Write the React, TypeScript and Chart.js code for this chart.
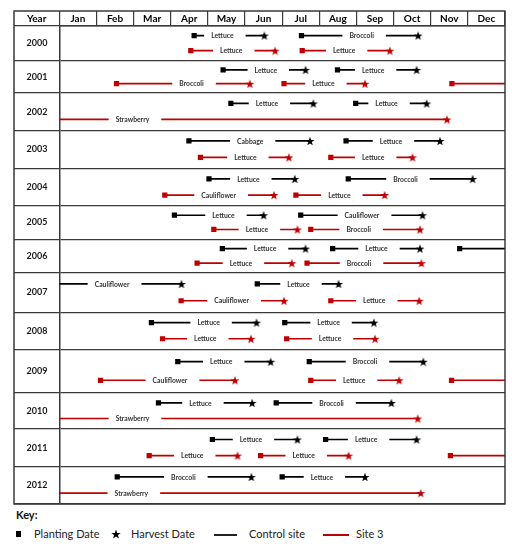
import { useEffect, useRef } from "react";
import { Chart, registerables } from "chart.js";

Chart.register(...registerables);

const months = ["Jan", "Feb", "Mar", "Apr", "May", "Jun", "Jul", "Aug", "Sep", "Oct", "Nov", "Dec"];
const years = ["2000", "2001", "2002", "2003", "2004", "2005", "2006", "2007", "2008", "2009", "2010", "2011", "2012"];

// [year, planted (month), harvested (month), crop, label centre (month)]
// planted null = carried over from the year before, harvested null = runs on into next year
const controlSite = [
  ["2000", 3.63, 5.52, "Lettuce", 4.39], ["2000", 6.52, 9.66, "Broccoli", 8.14],
  ["2001", 4.41, 6.63, "Lettuce", 5.56], ["2001", 7.49, 9.62, "Lettuce", 8.45],
  ["2002", 4.62, 6.84, "Lettuce", 5.59], ["2002", 7.98, 9.89, "Lettuce", 8.81],
  ["2003", 3.49, 6.75, "Cabbage", 5.14], ["2003", 7.72, 10.25, "Lettuce", 8.93],
  ["2004", 4.03, 6.34, "Lettuce", 5.09], ["2004", 7.78, 11.13, "Broccoli", 9.32],
  ["2005", 3.1, 5.5, "Lettuce", 4.42], ["2005", 6.5, 9.78, "Cauliflower", 8.15],
  ["2006", 4.39, 6.63, "Lettuce", 5.54], ["2006", 7.36, 9.71, "Lettuce", 8.54], ["2006", 10.78, null, "", null],
  ["2007", null, 3.29, "Cauliflower", 1.42], ["2007", 5.33, 7.52, "Lettuce", 6.44],
  ["2008", 2.48, 5.31, "Lettuce", 4.02], ["2008", 6.07, 8.47, "Lettuce", 7.25],
  ["2009", 3.19, 5.69, "Lettuce", 4.36], ["2009", 6.73, 9.8, "Broccoli", 8.23],
  ["2010", 2.67, 5.19, "Lettuce", 3.8], ["2010", 5.84, 8.94, "Broccoli", 7.33],
  ["2011", 4.12, 6.41, "Lettuce", 5.16], ["2011", 7.17, 9.62, "Lettuce", 8.26],
  ["2012", 1.56, 5.17, "Broccoli", 3.34], ["2012", 6.0, 8.23, "Lettuce", 7.07],
];

const site3 = [
  ["2000", 3.54, 5.81, "Lettuce", 4.63], ["2000", 6.54, 8.9, "Lettuce", 7.67],
  ["2001", 1.54, 5.13, "Broccoli", 3.56], ["2001", 6.05, 8.23, "Lettuce", 7.11], ["2001", 10.57, null, "", null],
  ["2002", null, 10.44, "Strawberry", 1.97],
  ["2003", 3.8, 6.18, "Lettuce", 5.01], ["2003", 7.31, 9.51, "Lettuce", 8.45],
  ["2004", 2.84, 5.78, "Cauliflower", 4.29], ["2004", 6.37, 8.76, "Lettuce", 7.54],
  ["2005", 4.16, 6.41, "Lettuce", 5.32], ["2005", 6.77, 9.71, "Broccoli", 8.06],
  ["2006", 3.71, 6.26, "Lettuce", 4.89], ["2006", 6.67, 9.75, "Broccoli", 8.07],
  ["2007", 3.28, 6.05, "Cauliflower", 4.64], ["2007", 7.31, 9.69, "Lettuce", 8.48],
  ["2008", 2.78, 5.16, "Lettuce", 3.93], ["2008", 6.12, 8.5, "Lettuce", 7.29],
  ["2009", 1.11, 4.73, "Cauliflower", 2.98], ["2009", 6.77, 9.15, "Lettuce", 7.94], ["2009", 10.56, null, "", null],
  ["2010", null, 9.65, "Strawberry", 1.97],
  ["2011", 2.42, 4.8, "Lettuce", 3.58], ["2011", 5.42, 7.79, "Lettuce", 6.58], ["2011", 10.53, null, "", null],
  ["2012", null, 9.73, "Strawberry", 1.94],
];

const BLACK = "#000000";
const RED = "#c00000";
const RULE = "#3a3a3a";
const FONT = "Lato, 'Open Sans', sans-serif";

// table rows are not all the same height in the original
const rowHeights = [35.3, 32.3, 37.4, 38.3, 37.7, 33.3, 34, 39.3, 37.7, 43.3, 36.4, 37.6, 37.7];
const rowTops = rowHeights.map((_, i) => rowHeights.slice(0, i).reduce((a, b) => a + b, 0));
const tableHeight = rowHeights.reduce((a, b) => a + b, 0);
const rowTicks = rowHeights.flatMap((h, i) => [rowTops[i], rowTops[i] + h / 2]).concat(tableHeight);

const CONTROL_ROW = 0.28;
const SITE3_ROW = 0.71;

const rowY = (year, frac) => {
  const i = years.indexOf(year);
  return rowTops[i] + rowHeights[i] * frac;
};

function makeStar(color) {
  const c = document.createElement("canvas");
  c.width = 10;
  c.height = 10;
  const g = c.getContext("2d");
  g.fillStyle = color;
  g.beginPath();
  for (let i = 0; i < 10; i++) {
    const r = i % 2 ? 1.9 : 4.7;
    const a = -Math.PI / 2 + (i * Math.PI) / 5;
    g.lineTo(5 + r * Math.cos(a), 5.5 + r * Math.sin(a));
  }
  g.closePath();
  g.fill();
  return c;
}

function spans(tasks, frac) {
  const out = [];
  tasks.forEach(([year, start, end]) => {
    const y = rowY(year, frac);
    out.push({ x: start ?? 0, y, kind: start == null ? "" : "plant" });
    out.push({ x: end ?? 12, y, kind: end == null ? "" : "harvest" });
    out.push({ x: end ?? 12, y: null, kind: "" });
  });
  return out;
}

function siteDataset(label, tasks, frac, color, star) {
  return {
    label,
    data: spans(tasks, frac),
    showLine: true,
    spanGaps: false,
    borderColor: color,
    backgroundColor: color,
    borderWidth: 1.7,
    pointBackgroundColor: color,
    pointBorderWidth: 0,
    pointStyle: (c) => (c.raw?.kind === "harvest" ? star : "rect"),
    pointRadius: (c) => (c.raw?.kind === "plant" ? 3.7 : c.raw?.kind === "harvest" ? 5 : 0),
  };
}

const cropLabels = {
  id: "cropLabels",
  afterDatasetsDraw(chart) {
    const { ctx, scales } = chart;
    ctx.save();
    ctx.font = `bold 6.8px ${FONT}`;
    ctx.textBaseline = "middle";
    ctx.textAlign = "left";
    [[controlSite, CONTROL_ROW], [site3, SITE3_ROW]].forEach(([tasks, frac]) => {
      tasks.forEach(([year, , , crop, at]) => {
        if (!crop) return;
        const px = scales.x.getPixelForValue(at);
        const py = scales.y.getPixelForValue(rowY(year, frac));
        const w = ctx.measureText(crop).width;
        ctx.fillStyle = "#ffffff";
        ctx.fillRect(px - w / 2 - 7, py - 2.5, w + 19, 5);
        ctx.fillStyle = "#333333";
        ctx.fillText(crop, px - w / 2, py + 0.5);
      });
    });
    ctx.restore();
  },
};

const tableFrame = {
  id: "tableFrame",
  afterDraw(chart) {
    const { ctx, chartArea: a, scales } = chart;
    const left = scales.y.left;
    const top = scales.xHead.top;
    ctx.save();
    ctx.strokeStyle = RULE;
    ctx.lineWidth = 1.5;
    ctx.strokeRect(left, top, a.right - left, a.bottom - top);
    ctx.fillStyle = "#000";
    ctx.font = `bold 10px ${FONT}`;
    ctx.textAlign = "center";
    ctx.textBaseline = "middle";
    ctx.fillText("Year", (left + a.left) / 2, (top + a.top) / 2 + 0.5);
    ctx.restore();
  },
};

function StarIcon({ color }) {
  const pts = [];
  for (let i = 0; i < 10; i++) {
    const r = i % 2 ? 2 : 5;
    const a = -Math.PI / 2 + (i * Math.PI) / 5;
    pts.push(`${(5 + r * Math.cos(a)).toFixed(2)},${(5.5 + r * Math.sin(a)).toFixed(2)}`);
  }
  return (
    <svg width="10" height="10" style={{ position: "absolute", left: 111, top: 529 }}>
      <polygon points={pts.join(" ")} fill={color} />
    </svg>
  );
}

export default function App() {
  const canvasRef = useRef(null);
  const chartRef = useRef(null);

  useEffect(() => {
    const ctx = canvasRef.current.getContext("2d");
    if (chartRef.current) chartRef.current.destroy();

    chartRef.current = new Chart(ctx, {
      type: "scatter",
      data: {
        datasets: [
          siteDataset("Control site", controlSite, CONTROL_ROW, BLACK, makeStar(BLACK)),
          siteDataset("Site 3", site3, SITE3_ROW, RED, makeStar(RED)),
        ],
      },
      options: {
        animation: false,
        responsive: true,
        maintainAspectRatio: false,
        layout: { padding: { left: 14, top: 11, right: 7, bottom: 2 } },
        plugins: { legend: { display: false }, tooltip: { enabled: false } },
        scales: {
          x: { type: "linear", display: false, min: 0, max: 12 },
          xHead: {
            type: "category",
            labels: months,
            position: "top",
            offset: true,
            afterFit: (s) => {
              s.height = 14.7;
              s.paddingLeft = 0;
              s.paddingRight = 0;
            },
            grid: { offset: true, drawOnChartArea: false, tickLength: 14.7, color: RULE, lineWidth: 1.2 },
            border: { display: true, color: RULE, width: 1.5 },
            ticks: {
              autoSkip: false,
              maxRotation: 0,
              padding: -13.3,
              color: "#000",
              font: { family: FONT, size: 10, weight: "bold" },
            },
          },
          y: {
            type: "linear",
            position: "left",
            reverse: true,
            min: 0,
            max: tableHeight,
            afterBuildTicks: (s) => {
              s.ticks = rowTicks.map((value) => ({ value }));
            },
            afterFit: (s) => {
              s.width = 45.3;
              s.paddingTop = 0;
              s.paddingBottom = 0;
            },
            grid: {
              color: (c) => (c.index % 2 ? "rgba(0,0,0,0)" : RULE),
              lineWidth: 1.2,
              tickLength: 45.3,
            },
            border: { display: true, color: RULE, width: 1.5 },
            ticks: {
              autoSkip: false,
              crossAlign: "center",
              padding: -33.5,
              color: "#1a1a1a",
              font: { family: FONT, size: 9, weight: "bold" },
              callback: (_v, i) => (i % 2 ? years[(i - 1) / 2] : ""),
            },
          },
        },
      },
      plugins: [cropLabels, tableFrame],
    });

    return () => chartRef.current?.destroy();
  }, []);

  const keyText = { position: "absolute", top: 527, fontSize: 11, color: "#222", whiteSpace: "nowrap" };

  return (
    <div style={{ position: "relative", width: 512, height: 550, fontFamily: FONT }}>
      <style>{"body{margin:0}"}</style>
      <div style={{ position: "absolute", left: 0, top: 0, width: 512, height: 508 }}>
        <canvas ref={canvasRef}></canvas>
      </div>
      <div style={{ position: "absolute", left: 16, top: 508, fontSize: 11, fontWeight: 700, color: "#111" }}>Key:</div>
      <div style={{ position: "absolute", left: 16, top: 531, width: 5, height: 6, background: BLACK }}></div>
      <div style={{ ...keyText, left: 34 }}>Planting Date</div>
      <StarIcon color={BLACK} />
      <div style={{ ...keyText, left: 131 }}>Harvest Date</div>
      <div style={{ position: "absolute", left: 214, top: 533.5, width: 23, height: 2, background: "#222" }}></div>
      <div style={{ ...keyText, left: 249 }}>Control site</div>
      <div style={{ position: "absolute", left: 323, top: 534, width: 26, height: 2, background: RED }}></div>
      <div style={{ ...keyText, left: 356 }}>Site 3</div>
    </div>
  );
}
